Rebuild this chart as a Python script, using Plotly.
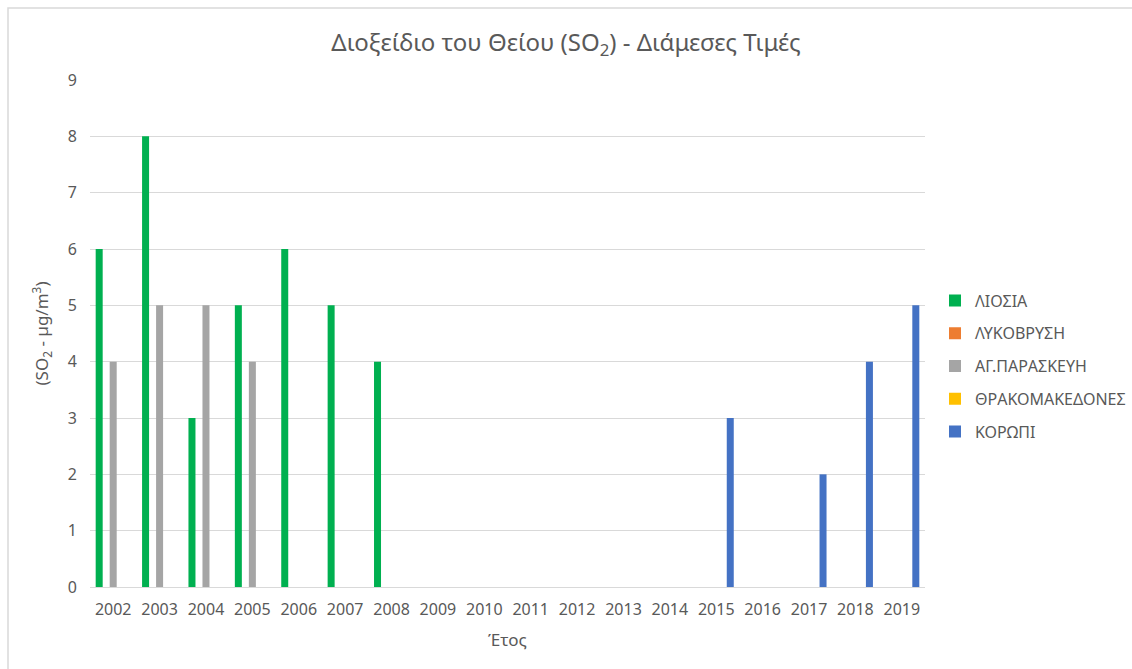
import plotly.graph_objects as go

years = [str(y) for y in range(2002, 2020)]
series_names = ["ΛΙΟΣΙΑ", "ΛΥΚΟΒΡΥΣΗ", "ΑΓ.ΠΑΡΑΣΚΕΥΗ", "ΘΡΑΚΟΜΑΚΕΔΟΝΕΣ", "ΚΟΡΩΠΙ"]
liosia = [6, 8, 3, 5, 6, 5, 4, None, None, None, None, None, None, None, None, None, None, None]
lykovrysi = [None] * 18
ag_paraskevi = [4, 5, 5, 4, None, None, None, None, None, None, None, None, None, None, None, None, None, None]
thrakomakedones = [None] * 18
koropi = [None, None, None, None, None, None, None, None, None, None, None, None, None, 3, None, 2, 4, 5]
colors = ["#00B050", "#ED7D31", "#A5A5A5", "#FFC000", "#4472C4"]

values = [liosia, lykovrysi, ag_paraskevi, thrakomakedones, koropi]

FONT = "Noto Sans, Open Sans, sans-serif"
TXT = "#595959"

fig = go.Figure()
for name, vals, col in zip(series_names, values, colors):
    fig.add_trace(go.Bar(x=years, y=vals, name=name, marker_color=col,
                         marker_line_width=0, legendgroup=name))

W, H = 1132, 669
L, R, T, B = 90, 925, 80, 587
pw, ph = R - L, B - T

def px(x):
    return (x - L) / pw

def py(y):
    return (B - y) / ph

fig.update_layout(
    width=W, height=H,
    margin=dict(l=L, r=W - R, t=T, b=H - B, autoexpand=False),
    paper_bgcolor="white", plot_bgcolor="white",
    barmode="group", bargap=0.245, bargroupgap=0,
    font=dict(family=FONT, size=16, color=TXT),
    title=dict(text="Διοξείδιο του Θείου (SO<sub>2</sub>) - Διάμεσες Τιμές",
               x=566 / W, xref="container", xanchor="center",
               y=1 - 43 / H, yref="container", yanchor="middle",
               font=dict(size=24, color=TXT, family=FONT)),
    legend=dict(x=px(935), xanchor="left", y=py(366), yanchor="middle",
                font=dict(size=16, color=TXT), tracegroupgap=9,
                itemwidth=30, bgcolor="rgba(0,0,0,0)"),
    xaxis=dict(type="category", showgrid=False, showline=False,
               ticks="", tickfont=dict(size=16, color=TXT),
               ticklabelstandoff=11,
               title=dict(text="Έτος", font=dict(size=17, color=TXT), standoff=15)),
    yaxis=dict(range=[0, 9], dtick=1, showgrid=True, gridcolor="#D9D9D9",
               gridwidth=1, zeroline=True, zerolinecolor="#D9D9D9",
               zerolinewidth=1, showline=False, ticks="",
               tickfont=dict(size=16, color=TXT), ticklabelstandoff=12,
               title=dict(text="(SO<sub>2</sub> - µg/m<sup>3</sup>)",
                          font=dict(size=17, color=TXT), standoff=14)),
    shapes=[dict(type="rect", xref="paper", yref="paper",
                 x0=px(8), y0=py(H + 20), x1=px(W + 20), y1=py(8),
                 line=dict(color="#D9D9D9", width=1.5), fillcolor="rgba(0,0,0,0)",
                 layer="below")],
)

fig.write_html("out.html")
